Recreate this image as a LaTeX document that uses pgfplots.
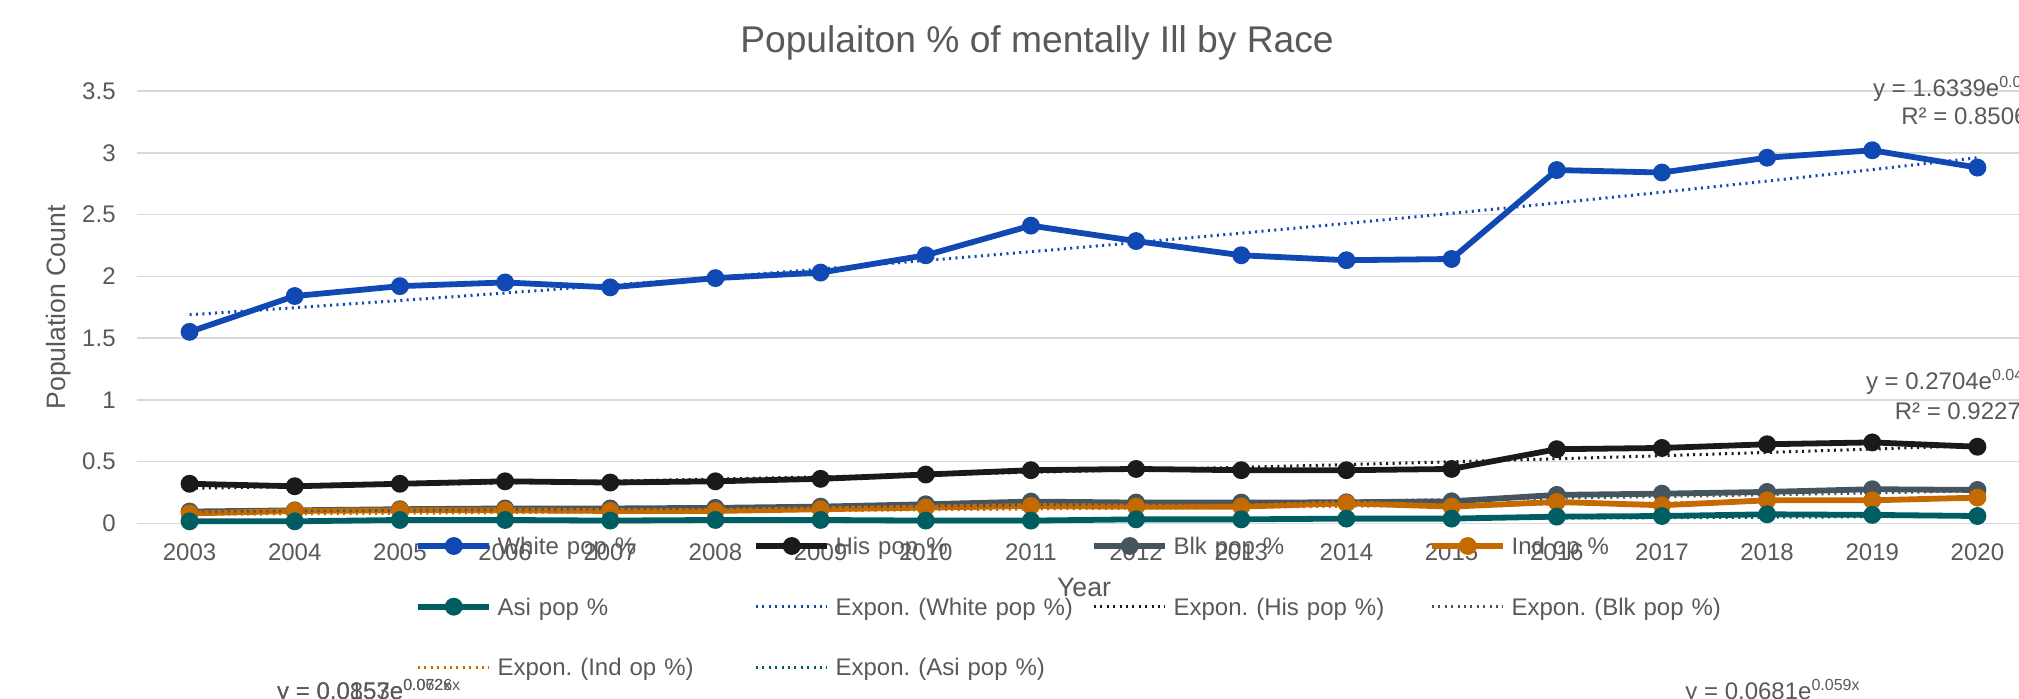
\documentclass[border=0pt]{standalone}
\usepackage{fontspec}
\setmainfont{Liberation Sans}
\usepackage{pgfplots}
\pgfplotsset{compat=1.18}
\definecolor{cW}{RGB}{16,73,180}
\definecolor{cH}{RGB}{26,26,26}
\definecolor{cB}{RGB}{69,85,96}
\definecolor{cI}{RGB}{197,106,0}
\definecolor{cA}{RGB}{0,94,99}
\definecolor{cText}{RGB}{89,89,89}
\definecolor{cGrid}{RGB}{217,217,217}
\newcommand\fs[1]{\fontsize{#1}{#1}\selectfont}
\newcommand\sups[1]{\raisebox{0.36em}{\fs{8}#1}}
\frenchspacing
\begin{document}
\begin{tikzpicture}
\useasboundingbox (0pt,0pt) rectangle (1009.5pt,349pt);
\clip (0pt,0pt) rectangle (1009.5pt,349pt);
\begin{axis}[
  at={(68.5pt,87.35pt)}, anchor=south west, scale only axis,
  width=946.5pt, height=216.15pt,
  xmin=2002.5, xmax=2020.5, ymin=0, ymax=3.5,
  xtick={2003,2004,2005,2006,2007,2008,2009,2010,2011,2012,2013,2014,2015,2016,2017,2018,2019,2020},
  ytick={0,0.5,1,1.5,2,2.5,3,3.5},
  /pgf/number format/1000 sep={},
  /pgf/number format/assume math mode=true,
  axis line style={draw=none}, tick style={draw=none},
  ymajorgrids, grid style={cGrid, line width=0.75pt},
  xticklabel style={anchor=base, yshift=-18.35pt, font=\fs{12}, text=cText},
  yticklabel style={anchor=east, inner xsep=0pt, xshift=-10.5pt, font=\fs{12}, text=cText},
  clip=false,
  legend columns=4,
  legend image code/.code={\draw[mark repeat=2,mark phase=2,#1] plot coordinates {(0pt,0pt) (17.85pt,0pt) (35.7pt,0pt)};},
  legend style={at={(0.14696,-0.0326)}, anchor=north west, draw=none, fill=none,
    inner sep=0pt, outer sep=0pt, column sep=0pt, row sep=21.75pt,
    font=\fs{12}, text=cText, cells={anchor=west},
    nodes={text height=8.6pt, text depth=0pt, inner ysep=0pt, inner xsep=2.6pt, text width=125.2pt, align=left}},
  every axis plot/.append style={line width=2.9pt, mark=*, mark size=3pt},
]
\addplot[cW, mark options={fill=cW, draw=cW}] coordinates {
(2003,1.55) (2004,1.84) (2005,1.92) (2006,1.95) (2007,1.91) (2008,1.985) (2009,2.03) (2010,2.17) (2011,2.41)
(2012,2.285) (2013,2.17) (2014,2.13) (2015,2.14) (2016,2.86) (2017,2.84) (2018,2.96) (2019,3.02) (2020,2.88)};
\addlegendentry{White pop \%}
\addplot[cH, mark options={fill=cH, draw=cH}] coordinates {
(2003,0.32) (2004,0.30) (2005,0.32) (2006,0.34) (2007,0.33) (2008,0.34) (2009,0.36) (2010,0.395) (2011,0.43)
(2012,0.44) (2013,0.43) (2014,0.43) (2015,0.44) (2016,0.60) (2017,0.61) (2018,0.64) (2019,0.655) (2020,0.62)};
\addlegendentry{His pop \%}
\addplot[cB, mark options={fill=cB, draw=cB}] coordinates {
(2003,0.095) (2004,0.105) (2005,0.114) (2006,0.12) (2007,0.12) (2008,0.125) (2009,0.135) (2010,0.154) (2011,0.176)
(2012,0.168) (2013,0.168) (2014,0.17) (2015,0.178) (2016,0.23) (2017,0.24) (2018,0.254) (2019,0.276) (2020,0.27)};
\addlegendentry{Blk pop \%}
\addplot[cI, mark options={fill=cI, draw=cI}] coordinates {
(2003,0.08) (2004,0.10) (2005,0.105) (2006,0.105) (2007,0.10) (2008,0.10) (2009,0.114) (2010,0.127) (2011,0.14)
(2012,0.135) (2013,0.135) (2014,0.162) (2015,0.135) (2016,0.173) (2017,0.146) (2018,0.186) (2019,0.186) (2020,0.208)};
\addlegendentry{Ind op \%}
\addplot[cA, mark options={fill=cA, draw=cA}] coordinates {
(2003,0.016) (2004,0.016) (2005,0.027) (2006,0.027) (2007,0.022) (2008,0.027) (2009,0.027) (2010,0.022) (2011,0.022)
(2012,0.032) (2013,0.032) (2014,0.038) (2015,0.038) (2016,0.054) (2017,0.059) (2018,0.073) (2019,0.068) (2020,0.059)};
\addlegendentry{Asi pop \%}
% exponential trendlines (values at each year)
\addplot[cW, no marks, line width=1.5pt, dash pattern=on 1pt off 2.2pt] coordinates {
(2003,1.6887) (2004,1.7454) (2005,1.8040) (2006,1.8645) (2007,1.9270) (2008,1.9917) (2009,2.0585) (2010,2.1276) (2011,2.1990)
(2012,2.2728) (2013,2.3491) (2014,2.4279) (2015,2.5094) (2016,2.5936) (2017,2.6806) (2018,2.7705) (2019,2.8635) (2020,2.9596)};
\addlegendentry{Expon. (White pop \%)}
\addplot[cH, no marks, line width=1.5pt, dash pattern=on 1pt off 2.2pt] coordinates {
(2003,0.2834) (2004,0.2971) (2005,0.3114) (2006,0.3264) (2007,0.3421) (2008,0.3585) (2009,0.3758) (2010,0.3939) (2011,0.4128)
(2012,0.4327) (2013,0.4535) (2014,0.4753) (2015,0.4982) (2016,0.5222) (2017,0.5473) (2018,0.5736) (2019,0.6012) (2020,0.6301)};
\addlegendentry{Expon. (His pop \%)}
\addplot[cB, no marks, line width=1.5pt, dash pattern=on 1pt off 2.2pt] coordinates {
(2003,0.0912) (2004,0.0970) (2005,0.1032) (2006,0.1098) (2007,0.1168) (2008,0.1243) (2009,0.1322) (2010,0.1407) (2011,0.1497)
(2012,0.1593) (2013,0.1695) (2014,0.1803) (2015,0.1918) (2016,0.2041) (2017,0.2172) (2018,0.2311) (2019,0.2458) (2020,0.2616)};
\addlegendentry{Expon. (Blk pop \%)}
\addplot[cI, no marks, line width=1.5pt, dash pattern=on 1pt off 2.2pt] coordinates {
(2003,0.0722) (2004,0.0766) (2005,0.0813) (2006,0.0863) (2007,0.0915) (2008,0.0971) (2009,0.1030) (2010,0.1092) (2011,0.1159)
(2012,0.1229) (2013,0.1304) (2014,0.1383) (2015,0.1467) (2016,0.1556) (2017,0.1651) (2018,0.1751) (2019,0.1858) (2020,0.1971)};
\addlegendentry{Expon. (Ind op \%)}
\addplot[cA, no marks, line width=1.5pt, dash pattern=on 1pt off 2.2pt] coordinates {
(2003,0.0165) (2004,0.0177) (2005,0.0190) (2006,0.0205) (2007,0.0220) (2008,0.0237) (2009,0.0254) (2010,0.0274) (2011,0.0294)
(2012,0.0316) (2013,0.0340) (2014,0.0366) (2015,0.0393) (2016,0.0423) (2017,0.0455) (2018,0.0489) (2019,0.0526) (2020,0.0565)};
\addlegendentry{Expon. (Asi pop \%)}
\end{axis}
% titles
\node[anchor=base, inner sep=0pt, text=cText, font=\fs{18.6}] at (518.5pt,323pt) {Populaiton \% of mentally Ill by Race};
\node[rotate=90, inner sep=0pt, text=cText, font=\fs{13.3}] at (29.2pt,195.3pt) {Population Count};
\node[anchor=base, inner sep=0pt, text=cText, font=\fs{13.3}] at (542pt,51pt) {Year};
% trendline equations
\begin{scope}[every node/.style={anchor=base west, inner sep=0pt, text=cText, font=\fs{12}}]
\node at (936.4pt,301pt) {y = 1.6339e\sups{0.033x}};
\node at (950.5pt,287pt) {R² = 0.8506};
\node at (932.8pt,154.3pt) {y = 0.2704e\sups{0.047x}};
\node at (947.2pt,139.3pt) {R² = 0.9227};
\node at (138.4pt,-0.5pt) {y = 0.0857e\sups{0.062x}};
\node at (138.4pt,-0.5pt) {y = 0.0153e\sups{0.0726x}};
\node at (842.5pt,-0.5pt) {y = 0.0681e\sups{0.059x}};
\end{scope}
\end{tikzpicture}
\end{document}
